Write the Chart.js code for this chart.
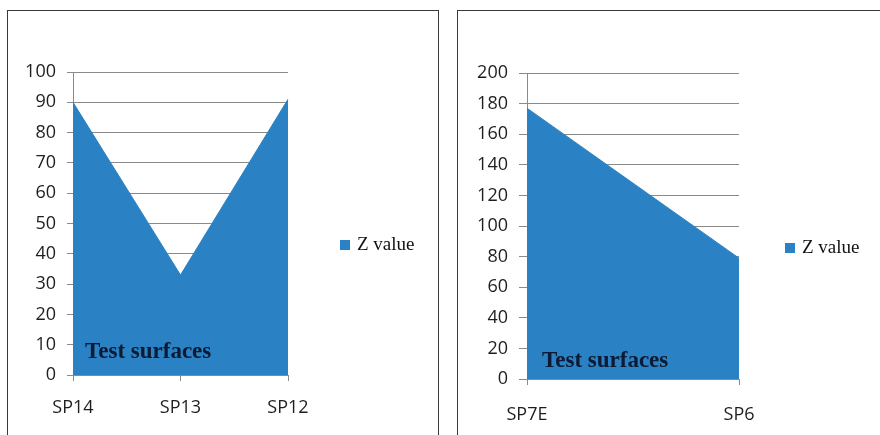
<!DOCTYPE html>
<html>
<head>
<meta charset="utf-8">
<script src="https://cdn.jsdelivr.net/npm/chart.js@4/dist/chart.umd.min.js"></script>
<style>
  html, body { margin: 0; padding: 0; background: #fff; }
  #stage { position: relative; width: 880px; height: 435px; overflow: hidden; background: #fff; }
  .panel { position: absolute; top: 0; width: 440px; height: 435px; }
  .frame { position: absolute; border: 1.5px solid #3a3a3a; border-bottom: none; pointer-events: none; }
</style>
</head>
<body>
<div id="stage">
  <div class="panel" style="left:0"><canvas id="chartA" width="440" height="435"></canvas></div>
  <div class="panel" style="left:440px"><canvas id="chartB" width="440" height="435"></canvas></div>
  <div class="frame" style="left:7px; top:10px; width:430px; height:440px;"></div>
  <div class="frame" style="left:457px; top:10px; width:440px; height:440px;"></div>
</div>
<script>
// Surface elevation per sample point
const seriesName = 'Z value';
const noteText = 'Test surfaces';

const categoriesA = ['SP14', 'SP13', 'SP12'];
const valuesA = [90, 33, 91];
const ticksA = [0, 10, 20, 30, 40, 50, 60, 70, 80, 90, 100];

const categoriesB = ['SP7E', 'SP6'];
const valuesB = [177, 79];
const ticksB = [0, 20, 40, 60, 80, 100, 120, 140, 160, 180, 200];

const fillColor = '#2a82c4';
const gridColor = '#8a8a8a';
const tickFont = { family: '"Open Sans", "Liberation Sans", sans-serif', size: 18 };

// Draws the in-plot note and the series key beside the plot
const notePlugin = {
  id: 'notes',
  afterDatasetsDraw(chart, args, opts) {
    const { ctx, chartArea } = chart;
    ctx.save();
    ctx.font = 'bold 23px "Liberation Serif", "Times New Roman", serif';
    ctx.fillStyle = '#0c1a33';
    ctx.textAlign = 'left';
    ctx.textBaseline = 'middle';
    ctx.fillText(noteText, chartArea.left + opts.noteDx, chartArea.bottom - opts.noteDy);

    const kx = chartArea.right + opts.keyDx;
    const ky = opts.keyY;
    ctx.fillStyle = fillColor;
    ctx.fillRect(kx, ky - 5, 10, 10);
    ctx.font = '19px "Liberation Serif", "Times New Roman", serif';
    ctx.fillStyle = '#111';
    ctx.fillText(chart.data.datasets[0].label, kx + 17, ky);
    ctx.restore();
  }
};

function makeChart(id, labels, values, ticks, geo) {
  return new Chart(document.getElementById(id), {
    type: 'line',
    data: {
      labels: labels,
      datasets: [{
        label: seriesName,
        data: values,
        fill: 'origin',
        backgroundColor: fillColor,
        borderColor: fillColor,
        borderWidth: 1,
        pointRadius: 0,
        tension: 0
      }]
    },
    options: {
      responsive: false,
      animation: false,
      layout: { padding: { left: 0, top: geo.top, right: geo.right, bottom: 0 } },
      plugins: {
        legend: { display: false },
        tooltip: { enabled: false },
        notes: geo.notes
      },
      scales: {
        x: {
          offset: false,
          grid: { drawOnChartArea: false, drawTicks: true, tickLength: 6, color: gridColor },
          border: { display: true, color: gridColor },
          ticks: { font: tickFont, color: '#1e1e1e', padding: geo.xPad, maxRotation: 0 },
          afterFit(scale) { scale.height = geo.xHeight; }
        },
        y: {
          min: ticks[0],
          max: ticks[ticks.length - 1],
          afterBuildTicks(scale) { scale.ticks = ticks.map(v => ({ value: v })); },
          grid: { color: gridColor, tickLength: geo.tickLen, lineWidth: 1 },
          border: { display: true, color: gridColor },
          ticks: { font: tickFont, color: '#1e1e1e', padding: geo.yPad },
          afterFit(scale) { scale.width = geo.yWidth; }
        }
      }
    },
    plugins: [notePlugin]
  });
}

makeChart('chartA', categoriesA, valuesA, ticksA, {
  top: 72, right: 152, yWidth: 73, xHeight: 60, xPad: 16, yPad: 11, tickLen: 6,
  notes: { noteDx: 12, noteDy: 23, keyDx: 52, keyY: 245 }
});

makeChart('chartB', categoriesB, valuesB, ticksB, {
  top: 73, right: 141, yWidth: 87, xHeight: 56, xPad: 19, yPad: 11, tickLen: 8,
  notes: { noteDx: 15, noteDy: 18, keyDx: 46, keyY: 248 }
});
</script>
</body>
</html>
